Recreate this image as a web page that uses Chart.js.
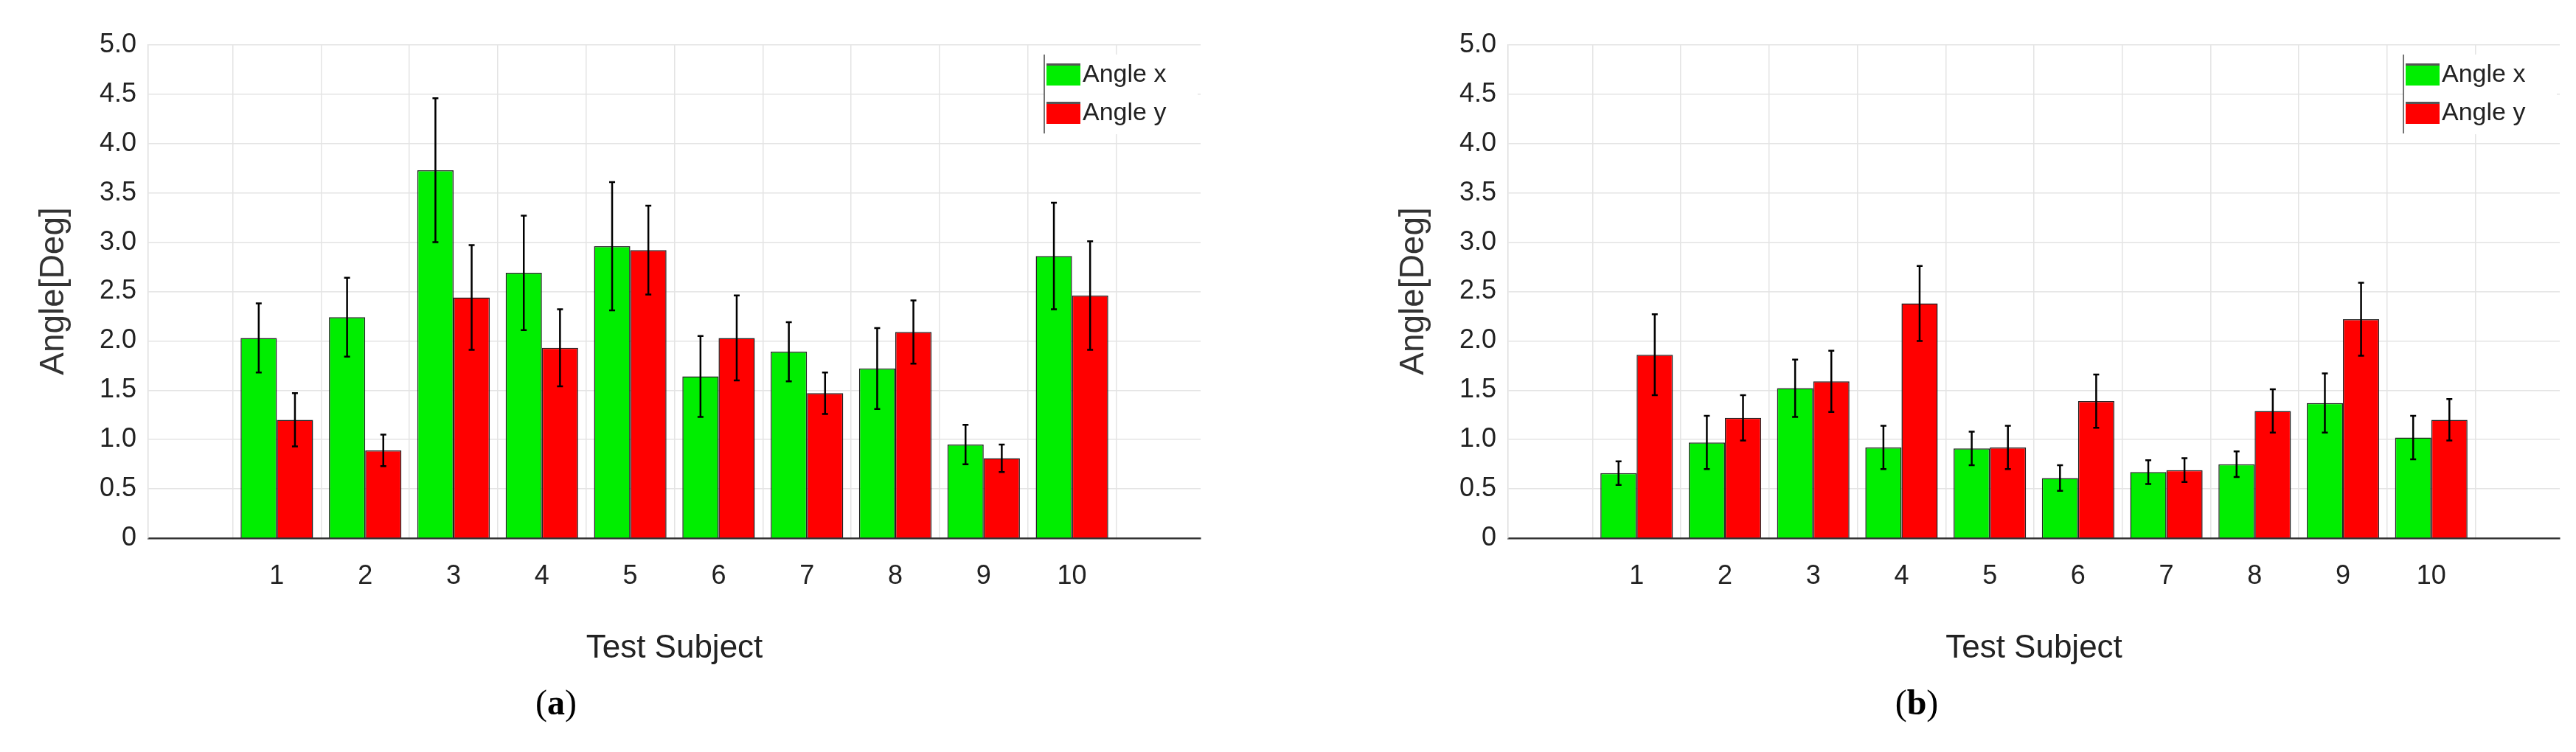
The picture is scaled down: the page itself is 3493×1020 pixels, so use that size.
<!DOCTYPE html>
<html>
<head>
<meta charset="utf-8">
<script src="https://cdn.jsdelivr.net/npm/chart.js@4"></script>
<style>
  body { margin: 0; background: #fff; width: 3493px; height: 1020px; position: relative; overflow: hidden; }
  .panel { position: absolute; top: 0; height: 1020px; }
  .cap { position: absolute; top: 925px; font: 48px "Liberation Serif", "DejaVu Serif", serif; transform: translateX(-50%); }
  .cap b { font-weight: bold; }
</style>
</head>
<body>
<div class="panel" style="left:0;width:1750px"><canvas id="chartA"></canvas></div>
<div class="panel" style="left:1750px;width:1743px"><canvas id="chartB"></canvas></div>
<div class="cap" style="left:754px">(<b>a</b>)</div>
<div class="cap" style="left:2599px">(<b>b</b>)</div>
<script>
// === DATA ===
const subjects = [1, 2, 3, 4, 5, 6, 7, 8, 9, 10];
const seriesNames = ['Angle x', 'Angle y'];
const yTicks = [0, 0.5, 1, 1.5, 2, 2.5, 3, 3.5, 4, 4.5, 5];

const aAngleX = [2.03, 2.24, 3.73, 2.69, 2.96, 1.64, 1.89, 1.72, 0.95, 2.86];
const aAngleXErr = [0.35, 0.40, 0.73, 0.58, 0.65, 0.41, 0.30, 0.41, 0.20, 0.54];
const aAngleY = [1.20, 0.89, 2.44, 1.93, 2.92, 2.03, 1.47, 2.09, 0.81, 2.46];
const aAngleYErr = [0.27, 0.16, 0.53, 0.39, 0.45, 0.43, 0.21, 0.32, 0.14, 0.55];

const bAngleX = [0.66, 0.97, 1.52, 0.92, 0.91, 0.61, 0.67, 0.75, 1.37, 1.02];
const bAngleXErr = [0.12, 0.27, 0.29, 0.22, 0.17, 0.13, 0.12, 0.13, 0.30, 0.22];
const bAngleY = [1.86, 1.22, 1.59, 2.38, 0.92, 1.39, 0.69, 1.29, 2.22, 1.20];
const bAngleYErr = [0.41, 0.23, 0.31, 0.38, 0.22, 0.27, 0.12, 0.22, 0.37, 0.21];

const COLORS = ['#00ee00', '#ff0000'];
const FONT = '"Liberation Sans Narrow", "Liberation Sans", Arial, sans-serif';

// error bars drawn on top of each bar, through the chart's own scales
const errorBarPlugin = {
    id: 'errorBars',
    afterDatasetsDraw(chart) {
        const ctx = chart.ctx;
        const yScale = chart.scales.y;
        ctx.save();
        ctx.strokeStyle = '#000';
        ctx.lineWidth = 2.5;
        chart.data.datasets.forEach((ds, di) => {
            const meta = chart.getDatasetMeta(di);
            meta.data.forEach((bar, i) => {
                const v = ds.data[i].y;
                const e = ds.errors[i];
                const top = yScale.getPixelForValue(v + e);
                const bot = yScale.getPixelForValue(v - e);
                ctx.beginPath();
                ctx.moveTo(bar.x, top); ctx.lineTo(bar.x, bot);
                ctx.moveTo(bar.x - 4, top); ctx.lineTo(bar.x + 4, top);
                ctx.moveTo(bar.x - 4, bot); ctx.lineTo(bar.x + 4, bot);
                ctx.stroke();
            });
        });
        ctx.restore();
    }
};

// legend box at top right and y title, MATLAB style
const decorPlugin = {
    id: 'decor',
    afterDraw(chart) {
        const ctx = chart.ctx;
        const area = chart.chartArea;
        ctx.save();
        const lx = area.right - 212;
        ctx.fillStyle = '#fff';
        ctx.fillRect(lx, 74, 208, 108);
        ctx.strokeStyle = '#444';
        ctx.lineWidth = 1.5;
        ctx.beginPath(); ctx.moveTo(lx, 74); ctx.lineTo(lx, 181); ctx.stroke();
        ctx.font = '34px ' + FONT;
        ctx.textBaseline = 'middle';
        seriesNames.forEach((name, i) => {
            const sy = 86 + i * 52;
            ctx.fillStyle = COLORS[i];
            ctx.fillRect(lx + 3, sy, 46, 30);
            ctx.fillStyle = '#555';
            ctx.fillRect(lx + 3, sy, 46, 3);
            ctx.fillStyle = '#222';
            ctx.fillText(name, lx + 52, sy + 16);
        });
        ctx.translate(area.left - 128, 395);
        ctx.rotate(-Math.PI / 2);
        ctx.textAlign = 'center';
        ctx.font = '46px "Liberation Sans", Arial, sans-serif';
        ctx.fillStyle = '#333';
        ctx.fillText('Angle[Deg]', 0, 0);
        ctx.restore();
    }
};

function makeChart(id, xVals, xErr, yVals, yErr, leftWidth, rightPad) {
    const ctx = document.getElementById(id).getContext('2d');
    const toPts = vals => vals.map((v, i) => ({ x: subjects[i], y: v }));
    return new Chart(ctx, {
        type: 'bar',
        data: {
            datasets: [
                { label: seriesNames[0], data: toPts(xVals), errors: xErr, backgroundColor: COLORS[0], borderColor: '#222', borderWidth: 1.5 },
                { label: seriesNames[1], data: toPts(yVals), errors: yErr, backgroundColor: COLORS[1], borderColor: '#222', borderWidth: 1.5 }
            ]
        },
        options: {
            responsive: true,
            maintainAspectRatio: false,
            animation: false,
            categoryPercentage: 0.82,
            barPercentage: 1.0,
            layout: { padding: { top: 61, right: rightPad, bottom: 110, left: 0 } },
            plugins: { legend: { display: false }, tooltip: { enabled: false } },
            scales: {
                x: {
                    type: 'linear',
                    min: 0.14,
                    max: 10.86,
                    afterBuildTicks: scale => { scale.ticks = subjects.map(v => ({ value: v })); },
                    afterFit: scale => { scale.height = 180; },
                    ticks: { font: { size: 36, family: FONT }, color: '#222', padding: 30 },
                    grid: { color: '#e4e4e4', lineWidth: 1.5, tickLength: 0 },
                    border: { color: '#333', width: 2.5 },
                    title: { display: true, text: 'Test Subject', font: { size: 44, family: FONT }, color: '#222', padding: { top: 14 } }
                },
                y: {
                    min: 0,
                    max: 5,
                    afterBuildTicks: scale => { scale.ticks = yTicks.map(v => ({ value: v })); },
                    afterFit: scale => { scale.width = leftWidth; },
                    ticks: { font: { size: 36, family: FONT }, color: '#222', padding: 16 },
                    grid: { color: '#e4e4e4', lineWidth: 1.5, tickLength: 0 },
                    border: { color: '#ddd', width: 1.5 }
                }
            }
        },
        plugins: [errorBarPlugin, decorPlugin]
    });
}

makeChart('chartA', aAngleX, aAngleXErr, aAngleY, aAngleYErr, 201, 122);
makeChart('chartB', bAngleX, bAngleXErr, bAngleY, bAngleYErr, 295, 22);
</script>
</body>
</html>
